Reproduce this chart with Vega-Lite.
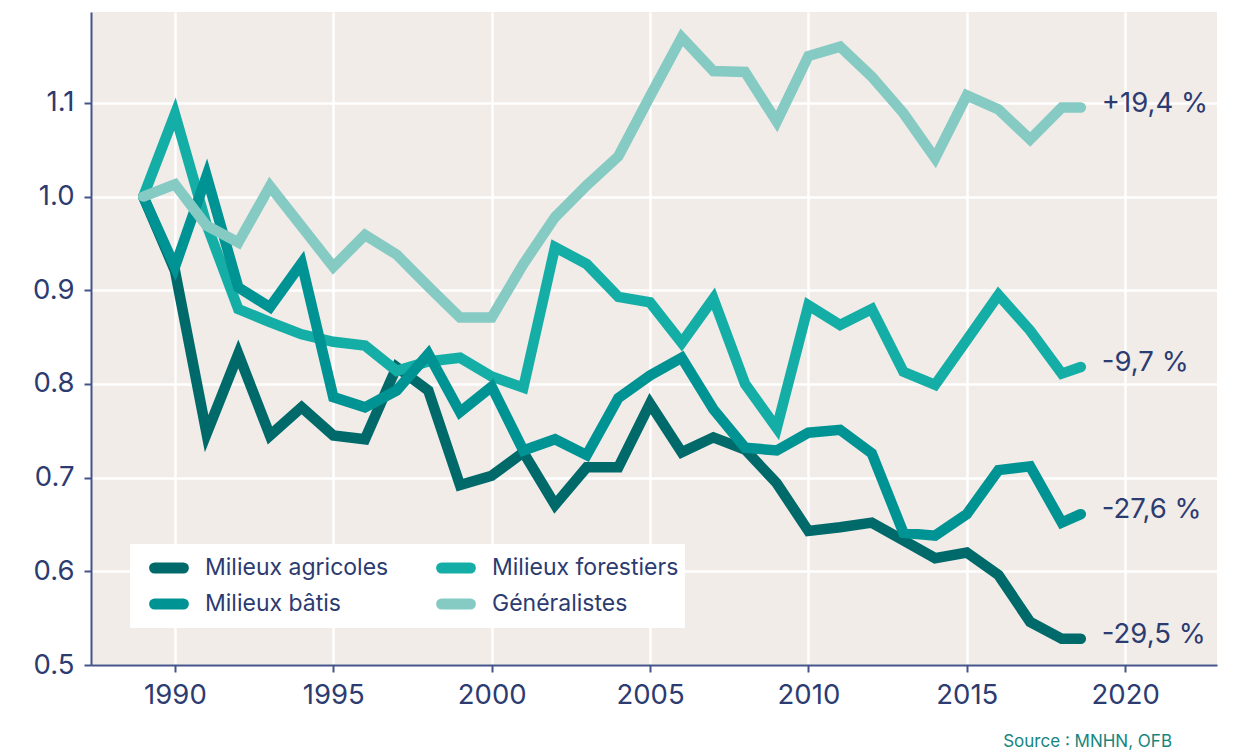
{
  "$schema": "https://vega.github.io/schema/vega-lite/v6.json",
  "width": 1126,
  "height": 653,
  "autosize": {"type": "none"},
  "padding": {"left": 91, "top": 12, "right": 23, "bottom": 85},
  "background": "white",
  "config": {
    "view": {"fill": "#f1ece8", "stroke": null},
    "font": "Inter",
    "axis": {
      "domainColor": "#44538a",
      "domainWidth": 2,
      "tickColor": "#44538a",
      "tickWidth": 2,
      "tickSize": 7,
      "labelFontSize": 27.5,
      "labelColor": "#2c3b70",
      "labelFont": "Inter",
      "gridColor": "#ffffff",
      "gridWidth": 2.5,
      "gridOpacity": 1,
      "title": null
    }
  },
  "title": {
    "text": "Source : MNHN, OFB",
    "orient": "bottom",
    "anchor": "end",
    "fontSize": 17,
    "fontWeight": "normal",
    "color": "#17857e",
    "font": "Inter",
    "dx": -45,
    "offset": 25
  },
  "datasets": {
    "series": [
      {"year": 1989, "series": "Milieux agricoles", "value": 1.0},
      {"year": 1990, "series": "Milieux agricoles", "value": 0.921},
      {"year": 1991, "series": "Milieux agricoles", "value": 0.747},
      {"year": 1992, "series": "Milieux agricoles", "value": 0.832},
      {"year": 1993, "series": "Milieux agricoles", "value": 0.745},
      {"year": 1994, "series": "Milieux agricoles", "value": 0.775},
      {"year": 1995, "series": "Milieux agricoles", "value": 0.745},
      {"year": 1996, "series": "Milieux agricoles", "value": 0.741},
      {"year": 1997, "series": "Milieux agricoles", "value": 0.818},
      {"year": 1998, "series": "Milieux agricoles", "value": 0.793},
      {"year": 1999, "series": "Milieux agricoles", "value": 0.692},
      {"year": 2000, "series": "Milieux agricoles", "value": 0.702},
      {"year": 2001, "series": "Milieux agricoles", "value": 0.727},
      {"year": 2002, "series": "Milieux agricoles", "value": 0.671},
      {"year": 2003, "series": "Milieux agricoles", "value": 0.711},
      {"year": 2004, "series": "Milieux agricoles", "value": 0.711},
      {"year": 2005, "series": "Milieux agricoles", "value": 0.779},
      {"year": 2006, "series": "Milieux agricoles", "value": 0.727},
      {"year": 2007, "series": "Milieux agricoles", "value": 0.743},
      {"year": 2008, "series": "Milieux agricoles", "value": 0.730},
      {"year": 2009, "series": "Milieux agricoles", "value": 0.694},
      {"year": 2010, "series": "Milieux agricoles", "value": 0.643},
      {"year": 2011, "series": "Milieux agricoles", "value": 0.647},
      {"year": 2012, "series": "Milieux agricoles", "value": 0.652},
      {"year": 2013, "series": "Milieux agricoles", "value": 0.633},
      {"year": 2014, "series": "Milieux agricoles", "value": 0.614},
      {"year": 2015, "series": "Milieux agricoles", "value": 0.620},
      {"year": 2016, "series": "Milieux agricoles", "value": 0.596},
      {"year": 2017, "series": "Milieux agricoles", "value": 0.546},
      {"year": 2018, "series": "Milieux agricoles", "value": 0.528},
      {"year": 2018.6, "series": "Milieux agricoles", "value": 0.528},

      {"year": 1989, "series": "Milieux forestiers", "value": 1.0},
      {"year": 1990, "series": "Milieux forestiers", "value": 1.088},
      {"year": 1991, "series": "Milieux forestiers", "value": 0.970},
      {"year": 1992, "series": "Milieux forestiers", "value": 0.880},
      {"year": 1993, "series": "Milieux forestiers", "value": 0.866},
      {"year": 1994, "series": "Milieux forestiers", "value": 0.853},
      {"year": 1995, "series": "Milieux forestiers", "value": 0.845},
      {"year": 1996, "series": "Milieux forestiers", "value": 0.841},
      {"year": 1997, "series": "Milieux forestiers", "value": 0.814},
      {"year": 1998, "series": "Milieux forestiers", "value": 0.824},
      {"year": 1999, "series": "Milieux forestiers", "value": 0.828},
      {"year": 2000, "series": "Milieux forestiers", "value": 0.808},
      {"year": 2001, "series": "Milieux forestiers", "value": 0.796},
      {"year": 2002, "series": "Milieux forestiers", "value": 0.946},
      {"year": 2003, "series": "Milieux forestiers", "value": 0.928},
      {"year": 2004, "series": "Milieux forestiers", "value": 0.893},
      {"year": 2005, "series": "Milieux forestiers", "value": 0.887},
      {"year": 2006, "series": "Milieux forestiers", "value": 0.844},
      {"year": 2007, "series": "Milieux forestiers", "value": 0.891},
      {"year": 2008, "series": "Milieux forestiers", "value": 0.800},
      {"year": 2009, "series": "Milieux forestiers", "value": 0.753},
      {"year": 2010, "series": "Milieux forestiers", "value": 0.884},
      {"year": 2011, "series": "Milieux forestiers", "value": 0.863},
      {"year": 2012, "series": "Milieux forestiers", "value": 0.880},
      {"year": 2013, "series": "Milieux forestiers", "value": 0.813},
      {"year": 2014, "series": "Milieux forestiers", "value": 0.799},
      {"year": 2015, "series": "Milieux forestiers", "value": 0.847},
      {"year": 2016, "series": "Milieux forestiers", "value": 0.895},
      {"year": 2017, "series": "Milieux forestiers", "value": 0.857},
      {"year": 2018, "series": "Milieux forestiers", "value": 0.811},
      {"year": 2018.6, "series": "Milieux forestiers", "value": 0.818},

      {"year": 1989, "series": "Milieux bâtis", "value": 1.0},
      {"year": 1990, "series": "Milieux bâtis", "value": 0.925},
      {"year": 1991, "series": "Milieux bâtis", "value": 1.022},
      {"year": 1992, "series": "Milieux bâtis", "value": 0.903},
      {"year": 1993, "series": "Milieux bâtis", "value": 0.882},
      {"year": 1994, "series": "Milieux bâtis", "value": 0.929},
      {"year": 1995, "series": "Milieux bâtis", "value": 0.786},
      {"year": 1996, "series": "Milieux bâtis", "value": 0.775},
      {"year": 1997, "series": "Milieux bâtis", "value": 0.793},
      {"year": 1998, "series": "Milieux bâtis", "value": 0.832},
      {"year": 1999, "series": "Milieux bâtis", "value": 0.770},
      {"year": 2000, "series": "Milieux bâtis", "value": 0.797},
      {"year": 2001, "series": "Milieux bâtis", "value": 0.729},
      {"year": 2002, "series": "Milieux bâtis", "value": 0.741},
      {"year": 2003, "series": "Milieux bâtis", "value": 0.724},
      {"year": 2004, "series": "Milieux bâtis", "value": 0.785},
      {"year": 2005, "series": "Milieux bâtis", "value": 0.809},
      {"year": 2006, "series": "Milieux bâtis", "value": 0.828},
      {"year": 2007, "series": "Milieux bâtis", "value": 0.773},
      {"year": 2008, "series": "Milieux bâtis", "value": 0.732},
      {"year": 2009, "series": "Milieux bâtis", "value": 0.729},
      {"year": 2010, "series": "Milieux bâtis", "value": 0.748},
      {"year": 2011, "series": "Milieux bâtis", "value": 0.751},
      {"year": 2012, "series": "Milieux bâtis", "value": 0.726},
      {"year": 2013, "series": "Milieux bâtis", "value": 0.641},
      {"year": 2014, "series": "Milieux bâtis", "value": 0.638},
      {"year": 2015, "series": "Milieux bâtis", "value": 0.661},
      {"year": 2016, "series": "Milieux bâtis", "value": 0.708},
      {"year": 2017, "series": "Milieux bâtis", "value": 0.712},
      {"year": 2018, "series": "Milieux bâtis", "value": 0.652},
      {"year": 2018.6, "series": "Milieux bâtis", "value": 0.661},

      {"year": 1989, "series": "Généralistes", "value": 1.0},
      {"year": 1990, "series": "Généralistes", "value": 1.013},
      {"year": 1991, "series": "Généralistes", "value": 0.969},
      {"year": 1992, "series": "Généralistes", "value": 0.951},
      {"year": 1993, "series": "Généralistes", "value": 1.011},
      {"year": 1994, "series": "Généralistes", "value": 0.968},
      {"year": 1995, "series": "Généralistes", "value": 0.925},
      {"year": 1996, "series": "Généralistes", "value": 0.959},
      {"year": 1997, "series": "Généralistes", "value": 0.938},
      {"year": 1998, "series": "Généralistes", "value": 0.904},
      {"year": 1999, "series": "Généralistes", "value": 0.871},
      {"year": 2000, "series": "Généralistes", "value": 0.871},
      {"year": 2001, "series": "Généralistes", "value": 0.928},
      {"year": 2002, "series": "Généralistes", "value": 0.978},
      {"year": 2003, "series": "Généralistes", "value": 1.012},
      {"year": 2004, "series": "Généralistes", "value": 1.043},
      {"year": 2005, "series": "Généralistes", "value": 1.107},
      {"year": 2006, "series": "Généralistes", "value": 1.170},
      {"year": 2007, "series": "Généralistes", "value": 1.134},
      {"year": 2008, "series": "Généralistes", "value": 1.133},
      {"year": 2009, "series": "Généralistes", "value": 1.080},
      {"year": 2010, "series": "Généralistes", "value": 1.150},
      {"year": 2011, "series": "Généralistes", "value": 1.160},
      {"year": 2012, "series": "Généralistes", "value": 1.128},
      {"year": 2013, "series": "Généralistes", "value": 1.089},
      {"year": 2014, "series": "Généralistes", "value": 1.041},
      {"year": 2015, "series": "Généralistes", "value": 1.108},
      {"year": 2016, "series": "Généralistes", "value": 1.093},
      {"year": 2017, "series": "Généralistes", "value": 1.061},
      {"year": 2018, "series": "Généralistes", "value": 1.095},
      {"year": 2018.6, "series": "Généralistes", "value": 1.095}
    ],
    "labels": [
      {"year": 2018.6, "value": 1.095, "label": "+19,4 %"},
      {"year": 2018.6, "value": 0.818, "label": "-9,7 %"},
      {"year": 2018.6, "value": 0.661, "label": "-27,6 %"},
      {"year": 2018.6, "value": 0.528, "label": "-29,5 %"}
    ]
  },
  "layer": [
    {
      "data": {"name": "series"},
      "mark": {"type": "line", "strokeWidth": 10.5, "strokeCap": "round", "strokeJoin": "miter", "clip": false},
      "encoding": {
        "x": {
          "field": "year",
          "type": "quantitative",
          "scale": {"domain": [1987.35, 2022.9], "nice": false, "zero": false},
          "axis": {"values": [1990, 1995, 2000, 2005, 2010, 2015, 2020], "format": "d", "labelPadding": 9, "grid": true}
        },
        "y": {
          "field": "value",
          "type": "quantitative",
          "scale": {"domain": [0.5, 1.197], "nice": false, "zero": false},
          "axis": {"values": [0.5, 0.6, 0.7, 0.8, 0.9, 1.0, 1.1], "format": ".1f", "labelPadding": 10, "grid": true}
        },
        "color": {
          "field": "series",
          "type": "nominal",
          "sort": null,
          "scale": {
            "domain": ["Milieux agricoles", "Milieux forestiers", "Milieux bâtis", "Généralistes"],
            "range": ["#006a6a", "#15aea6", "#009393", "#85cac3"]
          },
          "legend": {
            "title": null,
            "orient": "none",
            "legendX": 39,
            "legendY": 532,
            "columns": 2,
            "direction": "horizontal",
            "fillColor": "#ffffff",
            "padding": 6,
            "symbolType": "M-1.6,0L1.6,0",
            "symbolStrokeWidth": 11,
            "symbolSize": 324,
            "symbolOffset": 18.5,
            "clipHeight": 36,
            "labelFontSize": 23,
            "labelFont": "Inter",
            "labelColor": "#2c3b70",
            "labelLimit": 400,
            "labelOffset": 21.5,
            "columnPadding": 34,
            "rowPadding": 0,
            "encode": {"symbols": {"update": {"strokeCap": {"value": "round"}}}}
          }
        }
      }
    },
    {
      "data": {"name": "labels"},
      "mark": {"type": "text", "align": "left", "baseline": "middle", "dx": 21, "dy": -4, "fontSize": 27.5, "font": "Inter", "color": "#2c3b70", "clip": false},
      "encoding": {
        "x": {"field": "year", "type": "quantitative"},
        "y": {"field": "value", "type": "quantitative"},
        "text": {"field": "label"}
      }
    }
  ]
}
